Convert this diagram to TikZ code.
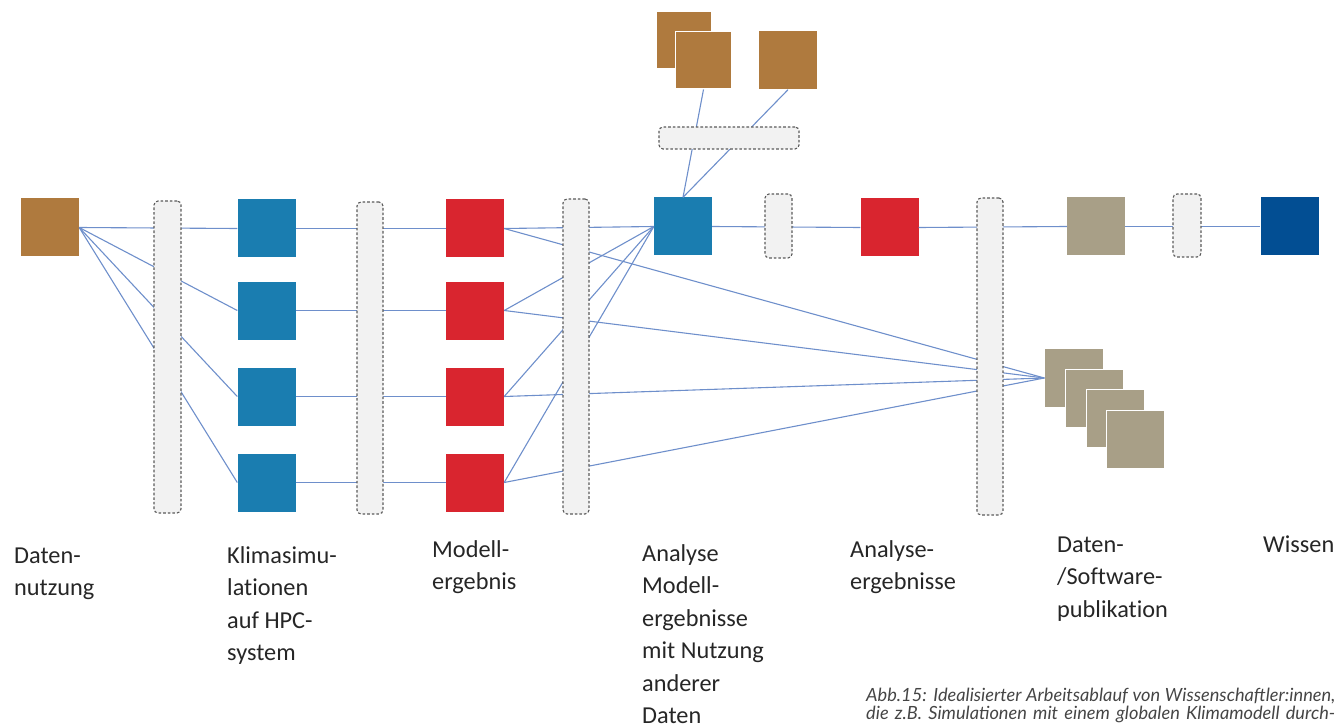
\documentclass[tikz,border=0pt]{standalone}
\usepackage{fontspec}
\setmainfont{Carlito}[Ligatures={NoCommon}]
\newfontfamily\capfont{Lato}
\definecolor{dbrown}{HTML}{AF7A3E}
\definecolor{dblue}{HTML}{1A7DB0}
\definecolor{dred}{HTML}{D9252F}
\definecolor{dbeige}{HTML}{A89F87}
\definecolor{dnavy}{HTML}{024E93}
\definecolor{barfill}{HTML}{F2F2F2}
\definecolor{bardash}{HTML}{5A5A5A}
\definecolor{linkblue}{HTML}{6E8FCB}
\definecolor{labelgray}{HTML}{262626}
\definecolor{capgray}{HTML}{454545}
\begin{document}
\begin{tikzpicture}[x=1pt,y=-1pt,
  sq/.style={rectangle, inner sep=0pt, minimum width=58pt, minimum height=58pt, draw=none},
  hub/.style={rectangle, rounded corners=4pt, fill=barfill, draw=bardash,
              line width=1.1pt, dash pattern=on 2.6pt off 2pt, inner sep=0pt},
  link/.style={draw=linkblue, line width=1.1pt},
  lbl/.style={anchor=base west, inner sep=0pt, align=left, text=labelgray,
              font=\fontsize{24.3}{32.5}\selectfont},
  captext/.style={anchor=base west, inner sep=0pt, text=capgray,
              font=\capfont\itshape\fontsize{18.2}{18}\selectfont}]
\useasboundingbox (0,0) rectangle (1343,727);
\clip (0,0) rectangle (1343,727);

% ---- boxes ----
\node[sq, fill=dbrown] (dn) at (50,227.5) {};
\foreach \i/\y in {1/228.5,2/310.5,3/396.5,4/482.5}{
  \node[sq, fill=dblue] (sim\i) at (266.5,\y) {};
  \node[sq, fill=dred]  (mod\i) at (475,\y) {};
}
\node[sq, fill=dblue] (ana) at (683,226.5) {};
\node[sq, fill=dred]  (res) at (889.5,227.5) {};
\node[sq, fill=dbeige] (pub) at (1096,226.5) {};
\node[sq, fill=dnavy] (wis) at (1289.5,226.5) {};

% external data sources on top
\node[sq, fill=dbrown, minimum width=54pt, minimum height=56pt] (ext0) at (684,40) {};
\node[sq, fill=dbrown, minimum width=56pt, minimum height=57pt, draw=white, line width=1pt] (ext1) at (703.5,60.5) {};
\node[sq, fill=dbrown] (ext2) at (788,60.5) {};

% stack of publications
\node[sq, fill=dbeige] (st1) at (1073.5,378) {};
\node[sq, fill=dbeige, draw=white, line width=1pt] (st2) at (1094.5,398.5) {};
\node[sq, fill=dbeige, draw=white, line width=1pt] (st3) at (1115,418.5) {};
\node[sq, fill=dbeige, draw=white, line width=1pt] (st4) at (1135.5,439) {};

% ---- connectors (drawn before the hubs so the hubs cover them) ----
\foreach \i in {1,2,3,4}{
  \draw[link] (dn.east) -- (sim\i.west);
  \draw[link] (sim\i.east) -- (mod\i.west);
  \draw[link] (mod\i.east) -- (ana.west);
  \draw[link] (mod\i.east) -- (st1.west);
}
\draw[link] (ext1.south) -- (ana.north);
\draw[link] (ext2.south) -- (ana.north);
\draw[link] (ana.east) -- (res.west);
\draw[link] (res.east) -- (pub.west);
\draw[link] (pub.east) -- (wis.west);

% ---- dashed hubs drawn over the connectors ----
\node[hub, minimum width=27pt, minimum height=312pt] (h1) at (167.5,357) {};
\node[hub, minimum width=26pt, minimum height=312pt] (h2) at (370,358) {};
\node[hub, minimum width=26pt, minimum height=315pt] (h3) at (576,356.5) {};
\node[hub, minimum width=26pt, minimum height=317pt] (h4) at (990,356.5) {};
\node[hub, minimum width=27pt, minimum height=64pt] (h5) at (778.5,226) {};
\node[hub, minimum width=28pt, minimum height=63pt] (h6) at (1187,225.5) {};
\node[hub, minimum width=140pt, minimum height=22pt] (h7) at (729,138) {};

% ---- labels (anchored at the baseline of their last line) ----
\node[lbl] (l1) at (14,595.5) {Daten-\\nutzung};
\node[lbl] (l2) at (227,660.5) {Klimasimu-\\lationen\\auf HPC-\\system};
\node[lbl] (l3) at (432,589.5) {Modell-\\ergebnis};
\node[lbl] (l4) at (642,723.5) {Analyse\\Modell-\\ergebnisse\\mit Nutzung\\anderer\\Daten};
\node[lbl] (l5) at (850,589.5) {Analyse-\\ergebnisse};
\node[lbl] (l6) at (1057,617) {Daten-\\/Software-\\publikation};
\node[lbl] (l7) at (1263,552) {Wissen};

% ---- caption ----
\node[captext] (cap1) at (866,701)
  {\makebox[469pt][s]{Abb.15: Idealisierter Arbeitsablauf von Wissenschaftler:innen,}};
\node[captext] (cap2) at (866,719)
  {\makebox[469pt][s]{die z.B. Simulationen mit einem globalen Klimamodell durch-}};
\end{tikzpicture}
\end{document}
